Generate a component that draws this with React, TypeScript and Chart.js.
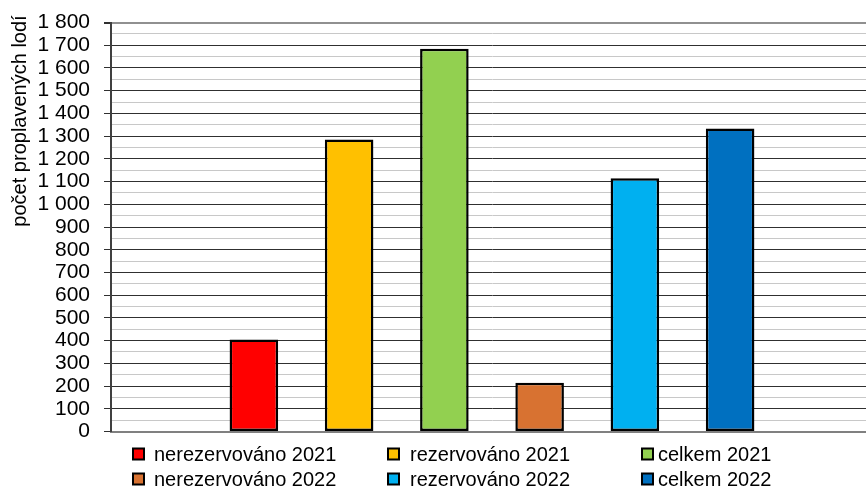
import React, { useEffect, useRef } from "react";
import { Chart, registerables } from "chart.js";

Chart.register(...registerables);

const categories = ["", "nerezervováno 2021", "rezervováno 2021", "celkem 2021", "nerezervováno 2022", "rezervováno 2022", "celkem 2022", ""];
const values: (number | null)[] = [null, 405, 1285, 1685, 215, 1114, 1334, null];
const barColors = ["#ffffff", "#FF0000", "#FFC000", "#92D050", "#D87231", "#00B0F0", "#0070C0", "#ffffff"];
const legendOrder = [1, 2, 3, 4, 5, 6];
const yTitle = "počet proplavených lodí";
const yMin = 0;
const yMax = 1800;

function fmt(v: number): string {
  if (v >= 1000) {
    const th = Math.floor(v / 1000);
    const rest = String(v % 1000).padStart(3, "0");
    return th + " " + rest;
  }
  return String(v);
}

const FONT = "'Liberation Sans', Arial, sans-serif";

const overlayPlugin = {
  id: "overlay",
  afterDraw(chart: any) {
    const ctx = chart.ctx as CanvasRenderingContext2D;
    ctx.save();
    ctx.translate(20, 121);
    ctx.rotate(-Math.PI / 2);
    ctx.font = `20px ${FONT}`;
    ctx.fillStyle = "#000";
    ctx.textAlign = "center";
    ctx.textBaseline = "middle";
    ctx.fillText(yTitle, 0, 0);
    ctx.restore();

    ctx.save();
    const colSquare = [133, 388, 642];
    const colText = [154, 410, 658];
    const rowY = [454, 479];
    ctx.font = `20px ${FONT}`;
    ctx.textBaseline = "middle";
    ctx.textAlign = "left";
    legendOrder.forEach((idx, i) => {
      const col = i % 3;
      const row = Math.floor(i / 3);
      const sx = colSquare[col];
      const cy = rowY[row];
      const size = 11;
      ctx.fillStyle = barColors[idx];
      ctx.fillRect(sx, cy - size / 2, size, size);
      ctx.lineWidth = 2;
      ctx.strokeStyle = "#000";
      ctx.strokeRect(sx, cy - size / 2, size, size);
      ctx.fillStyle = "#000";
      ctx.fillText(categories[idx], colText[col], cy + 1);
    });
    ctx.restore();
  },
};

export default function App() {
  const ref = useRef<HTMLCanvasElement | null>(null);
  useEffect(() => {
    document.body.style.margin = "0";
    if (!ref.current) return;
    const chart = new Chart(ref.current, {
      type: "bar",
      data: {
        labels: categories,
        datasets: [
          {
            data: values as any,
            backgroundColor: barColors,
            borderColor: "#000",
            borderWidth: 2.5,
            borderSkipped: false,
            barPercentage: 0.51,
            categoryPercentage: 1,
          },
        ],
      },
      options: {
        animation: false,
        responsive: false,
        layout: { padding: { top: 22.5, right: 4, bottom: 56.5, left: 0 } },
        plugins: { legend: { display: false }, tooltip: { enabled: false } },
        scales: {
          x: {
            grid: { display: false, drawTicks: false },
            ticks: { display: false },
            border: { color: "#808080", width: 2 },
            afterFit: (s: any) => {
              s.height = 0;
              s.paddingLeft = 0;
              s.paddingRight = 0;
            },
          },
          y: {
            min: yMin,
            max: yMax,
            afterFit: (s: any) => {
              s.width = 111;
              s.paddingTop = 0;
              s.paddingBottom = 0;
            },
            ticks: {
              stepSize: 50,
              autoSkip: false,
              padding: 14,
              color: "#000",
              font: { family: FONT, size: 21 },
              callback: (v: any) => (Number(v) % 100 === 0 ? fmt(Number(v)) : ""),
            },
            grid: {
              tickLength: 7,
              color: (c: any) => {
                const v = c.tick?.value;
                if (v === yMax) return "#909090";
                return v % 100 === 0 ? "#303030" : "#c8c8c8";
              },
              lineWidth: (c: any) => (c.tick?.value === yMax ? 2 : 1),
              tickColor: (c: any) => (c.tick?.value % 100 === 0 ? "#303030" : "rgba(0,0,0,0)"),
            },
            border: { color: "#404040", width: 2 },
          },
        },
      },
      plugins: [overlayPlugin],
    });
    return () => chart.destroy();
  }, []);
  return (
    <div style={{ position: "absolute", left: 0, top: 0, width: 866, height: 488, overflow: "hidden", background: "#fff" }}>
      <canvas ref={ref} width={877} height={488} />
    </div>
  );
}
